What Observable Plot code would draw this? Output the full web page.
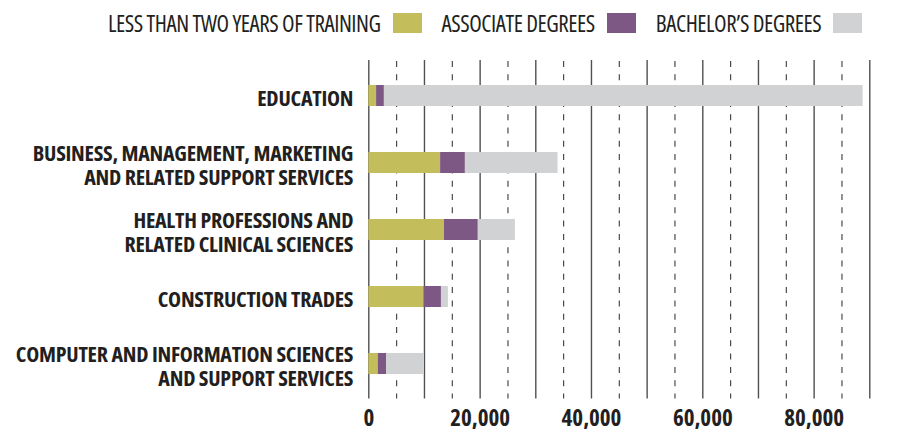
<!DOCTYPE html>
<html><head><meta charset="utf-8">
<script src="https://cdn.jsdelivr.net/npm/d3@7"></script>
<script src="https://cdn.jsdelivr.net/npm/@observablehq/plot@0.6"></script>
<style>
  html,body{margin:0;padding:0;background:#fff;}
  #wrap{width:899px;height:429px;position:relative;overflow:hidden;font-family:'Open Sans',sans-serif;font-stretch:75%;color:#231f20;}
  #legend{height:45px;position:relative;display:flex;align-items:center;padding-left:108px;box-sizing:border-box;}
  .lt{font-size:23px;font-weight:400;letter-spacing:-0.45px;white-space:nowrap;line-height:1;padding-top:1px}
  .sw{width:29px;height:20px;margin-left:12px;margin-right:20px;flex:none;}
  #chart svg{display:block;}
  #chart svg g[text-anchor="end"] text{letter-spacing:-0.25px;}
</style>
</head><body>
<div id="wrap">
  <div id="legend"></div>
  <div id="chart"></div>
</div>
<script>
// ---- data ----
const categories = [
  "EDUCATION",
  "BUSINESS, MANAGEMENT, MARKETING\nAND RELATED SUPPORT SERVICES",
  "HEALTH PROFESSIONS AND\nRELATED CLINICAL SCIENCES",
  "CONSTRUCTION TRADES",
  "COMPUTER AND INFORMATION SCIENCES\nAND SUPPORT SERVICES"
];
const seriesNames = ["LESS THAN TWO YEARS OF TRAINING", "ASSOCIATE DEGREES", "BACHELOR\u2019S DEGREES"];
const lessThanTwoYears = [1400, 12900, 13600, 9900, 1700];
const associateDegrees = [1400, 4450, 6070, 3150, 1480];
const bachelorsDegrees = [86000, 16650, 6660, 1250, 6700];
const seriesColors = ["#c4bd5b", "#7d5885", "#d1d2d4"];
const xTickLabels = [0, 20000, 40000, 60000, 80000];
const solidGrid = [0, 10000, 20000, 30000, 40000, 50000, 60000, 70000, 80000, 90000];
const dashedGrid = [5000, 15000, 25000, 35000, 45000, 55000, 65000, 75000, 85000];

// ---- legend ----
const legend = document.getElementById("legend");
seriesNames.forEach((name, i) => {
  const t = document.createElement("span");
  t.className = "lt"; t.textContent = name;
  const s = document.createElement("span");
  s.className = "sw"; s.style.background = seriesColors[i];
  legend.appendChild(t); legend.appendChild(s);
});

// ---- table ----
const seriesValues = [lessThanTwoYears, associateDegrees, bachelorsDegrees];
const rows = [];
seriesNames.forEach((s, si) => {
  categories.forEach((c, ci) => rows.push({category: c, series: s, value: seriesValues[si][ci]}));
});

const chart = Plot.plot({
  width: 899,
  height: 384,
  marginLeft: 368.3,
  marginRight: 29.7,
  marginTop: 15,
  marginBottom: 30.5,
  style: {fontFamily: "'Open Sans', sans-serif", fontStretch: "75%", color: "#231f20", background: "#fff"},
  x: {domain: [0, 90000], axis: null},
  y: {domain: categories, axis: null, paddingInner: 0.694, paddingOuter: 0.347},
  color: {domain: seriesNames, range: seriesColors},
  marks: [
    Plot.ruleX(dashedGrid, {stroke: "#3a3a3a", strokeWidth: 1.1, strokeDasharray: "6,7.3", strokeDashoffset: -1}),
    Plot.ruleX(solidGrid, {stroke: "#505050", strokeWidth: 1.4}),
    Plot.barX(rows, Plot.stackX({x: "value", y: "category", fill: "series", order: seriesNames})),
    Plot.text(categories, {
      y: d => d, frameAnchor: "left", textAnchor: "end", dx: -15.6, dy: 2.5,
      text: d => d, lineAnchor: "middle", lineHeight: 1.07,
      fontSize: 22, fontWeight: "bold", fill: "#231f20"
    }),
    Plot.axisX(xTickLabels, {
      tickSize: 0, tickPadding: 11, fontSize: 23, fontWeight: "bold",
      tickFormat: d3.format(","), fill: "#231f20", label: null
    })
  ]
});
document.getElementById("chart").appendChild(chart);
</script>
</body></html>
